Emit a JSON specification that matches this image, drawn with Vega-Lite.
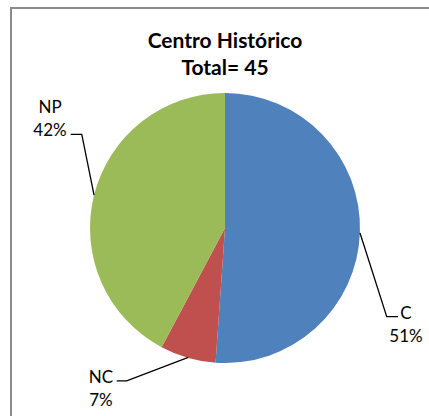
{
  "$schema": "https://vega.github.io/schema/vega-lite/v6.json",
  "width": 428,
  "height": 440,
  "autosize": {"type": "none"},
  "padding": {"left": 11, "top": 8, "right": 0, "bottom": 0},
  "background": "white",
  "config": {
    "view": {"stroke": "#8a8a8a", "strokeWidth": 2},
    "text": {"font": "Lato"}
  },
  "title": {
    "text": ["Centro Histórico", "Total= 45"],
    "font": "Lato",
    "fontSize": 21,
    "fontWeight": "bold",
    "color": "#000000",
    "lineHeight": 27,
    "anchor": "middle",
    "baseline": "alphabetic",
    "offset": -88
  },
  "datasets": {
    "slices": [
      {"categoria": "C", "n": 23, "orden": 1},
      {"categoria": "NC", "n": 3, "orden": 2},
      {"categoria": "NP", "n": 19, "orden": 3}
    ],
    "etiquetas": [
      {"categoria": "C", "texto": "C\n51%", "u": 1.341, "v": -0.64},
      {"categoria": "NC", "texto": "NC\n7%", "u": -0.919, "v": -1.113},
      {"categoria": "NP", "texto": "NP\n42%", "u": -1.296, "v": 0.886}
    ],
    "guias": [
      {"categoria": "C", "paso": 1, "u": 1.0, "v": -0.037},
      {"categoria": "C", "paso": 2, "u": 1.198, "v": -0.657},
      {"categoria": "C", "paso": 3, "u": 1.281, "v": -0.657},
      {"categoria": "NC", "paso": 1, "u": -0.272, "v": -0.958},
      {"categoria": "NC", "paso": 2, "u": -0.728, "v": -1.133},
      {"categoria": "NC", "paso": 3, "u": -0.802, "v": -1.133},
      {"categoria": "NP", "paso": 1, "u": -0.97, "v": 0.244},
      {"categoria": "NP", "paso": 2, "u": -1.061, "v": 0.694},
      {"categoria": "NP", "paso": 3, "u": -1.143, "v": 0.694}
    ]
  },
  "layer": [
    {
      "data": {"name": "slices"},
      "mark": {"type": "arc", "outerRadius": 135, "stroke": null},
      "encoding": {
        "theta": {"field": "n", "type": "quantitative", "stack": true},
        "order": {"field": "orden", "type": "quantitative"},
        "color": {
          "field": "categoria",
          "type": "nominal",
          "scale": {"domain": ["C", "NC", "NP"], "range": ["#4F81BD", "#C0504D", "#9BBB59"]},
          "legend": null
        }
      }
    },
    {
      "data": {"name": "guias"},
      "mark": {"type": "line", "color": "#000000", "strokeWidth": 1.3},
      "encoding": {
        "x": {"field": "u", "type": "quantitative", "scale": {"domain": [-1.5852, 1.5852], "zero": false, "nice": false}, "axis": null},
        "y": {"field": "v", "type": "quantitative", "scale": {"domain": [-1.6296, 1.6296], "zero": false, "nice": false}, "axis": null},
        "detail": {"field": "categoria"},
        "order": {"field": "paso", "type": "quantitative"}
      }
    },
    {
      "data": {"name": "etiquetas"},
      "mark": {"type": "text", "fontSize": 17, "lineHeight": 22.5, "lineBreak": "\n", "align": "center", "baseline": "middle", "color": "#000000"},
      "encoding": {
        "x": {"field": "u", "type": "quantitative", "scale": {"domain": [-1.5852, 1.5852], "zero": false, "nice": false}, "axis": null},
        "y": {"field": "v", "type": "quantitative", "scale": {"domain": [-1.6296, 1.6296], "zero": false, "nice": false}, "axis": null},
        "text": {"field": "texto"}
      }
    }
  ]
}
